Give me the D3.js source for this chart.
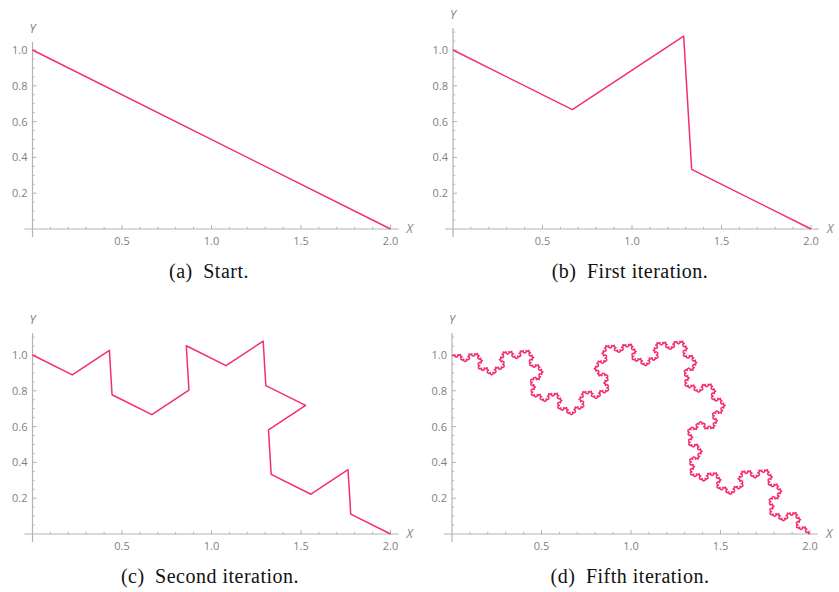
<!DOCTYPE html>
<html>
<head>
<meta charset="utf-8">
<script src="https://cdn.jsdelivr.net/npm/d3@7"></script>
<style>
  body { margin: 0; background: #fff; }
  svg { display: block; }
</style>
</head>
<body>
<div id="container"></div>
<script>
var width = 839;
var height = 592;

// data
var startCurve = [[0, 1], [2, 0]];
var iterations = [0, 1, 2, 5];
var captionTags = ["(a)", "(b)", "(c)", "(d)"];
var captionTexts = ["Start.", "First iteration.", "Second iteration.", "Fifth iteration."];
var xTicks = [0.5, 1.0, 1.5, 2.0];
var yTicks = [0.2, 0.4, 0.6, 0.8, 1.0];

// panel layout (origin = data point (0,0) in pixels)
var origins = [[32.5, 229], [453, 229], [32.5, 534], [452, 534]];
var captionPos = [[209, 278], [630, 278], [210, 583], [630, 583]];
var k = 179; // px per unit
var pad = 0.045;
var lineColor = "#f42f6b";
var axisColor = "#b3b3b3";
var labelColor = "#7f7f7f";

// one Koch step: every segment becomes four
function kochStep(pts) {
  var out = [pts[0]];
  for (var i = 0; i < pts.length - 1; i++) {
    var a = pts[i], b = pts[i + 1];
    var dx = (b[0] - a[0]) / 3, dy = (b[1] - a[1]) / 3;
    var p1 = [a[0] + dx, a[1] + dy];
    var p3 = [a[0] + 2 * dx, a[1] + 2 * dy];
    var c = Math.cos(Math.PI / 3), s = Math.sin(Math.PI / 3);
    var p2 = [p1[0] + dx * c - dy * s, p1[1] + dx * s + dy * c];
    out.push(p1, p2, p3, b);
  }
  return out;
}
function koch(n) {
  var pts = startCurve;
  for (var i = 0; i < n; i++) pts = kochStep(pts);
  return pts;
}

var svg = d3
  .select("div#container")
  .append("svg")
  .attr("width", width)
  .attr("height", height)
  .style("font-family", "'Open Sans', 'DejaVu Sans', sans-serif");

iterations.forEach(function (n, idx) {
  var pts = koch(n);
  var ymax = d3.max(pts, (d) => d[1]);
  var o = origins[idx];

  var x = d3.scaleLinear().domain([0, 2]).range([0, 2 * k]);
  var y = d3.scaleLinear().domain([0, 1]).range([0, -k]);

  var g = svg.append("g").attr("transform", `translate(${o[0]},${o[1]})`);

  // axes
  g.append("line")
    .attr("x1", x(-pad)).attr("x2", x(2 + pad))
    .attr("y1", 0).attr("y2", 0)
    .attr("stroke", axisColor).attr("stroke-width", 1.2);
  g.append("line")
    .attr("x1", 0).attr("x2", 0)
    .attr("y1", y(-pad)).attr("y2", y(ymax + pad))
    .attr("stroke", axisColor).attr("stroke-width", 1.2);

  // minor + major ticks (inward)
  var xMinor = d3.range(1, 21).map((i) => i / 10);
  var yMinor = d3.range(1, Math.floor((ymax + pad) / 0.05) + 1).map((i) => i * 0.05);
  g.selectAll(".xminor").data(xMinor).enter().append("line")
    .attr("x1", (d) => x(d)).attr("x2", (d) => x(d))
    .attr("y1", 0).attr("y2", (d) => (Math.abs(d * 2 - Math.round(d * 2)) < 1e-6 ? -4 : -2.2))
    .attr("stroke", axisColor).attr("stroke-width", 1);
  g.selectAll(".yminor").data(yMinor).enter().append("line")
    .attr("y1", (d) => y(d)).attr("y2", (d) => y(d))
    .attr("x1", 0).attr("x2", (d) => (Math.abs(d * 5 - Math.round(d * 5)) < 1e-6 ? 4 : 2.2))
    .attr("stroke", axisColor).attr("stroke-width", 1);

  // tick labels
  g.selectAll(".xlab").data(xTicks).enter().append("text")
    .attr("x", (d) => x(d)).attr("y", 16)
    .attr("text-anchor", "middle")
    .attr("font-size", 11).attr("fill", labelColor)
    .text((d) => d3.format(".1f")(d));
  g.selectAll(".ylab").data(yTicks).enter().append("text")
    .attr("x", -5).attr("y", (d) => y(d) + 4)
    .attr("text-anchor", "end")
    .attr("font-size", 11).attr("fill", labelColor)
    .text((d) => d3.format(".1f")(d));

  // axis names
  g.append("text")
    .attr("x", x(2 + pad) + 8).attr("y", 4)
    .attr("font-size", 12).attr("font-style", "italic").attr("fill", labelColor)
    .text("X");
  g.append("text")
    .attr("x", 0).attr("y", y(ymax + pad) - 9)
    .attr("text-anchor", "middle")
    .attr("font-size", 12).attr("font-style", "italic").attr("fill", labelColor)
    .text("Y");

  // curve
  var line = d3.line().x((d) => x(d[0])).y((d) => y(d[1]));
  g.append("path")
    .datum(pts)
    .attr("d", line)
    .attr("fill", "none")
    .attr("stroke", lineColor)
    .attr("stroke-width", 1.5)
    .attr("stroke-linejoin", "round");

  // caption
  svg.append("text")
    .attr("x", captionPos[idx][0]).attr("y", captionPos[idx][1])
    .attr("text-anchor", "middle")
    .style("font-family", "'Liberation Serif', 'DejaVu Serif', serif")
    .style("letter-spacing", "0.5px")
    .attr("font-size", 20).attr("fill", "#111")
    .text(captionTags[idx] + "\u2002" + captionTexts[idx]);
});
</script>
</body>
</html>
